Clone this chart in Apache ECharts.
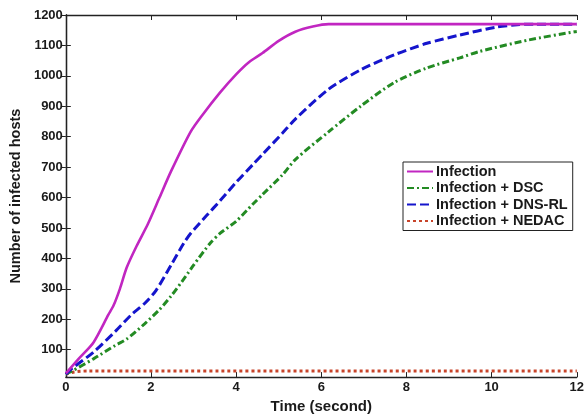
<!DOCTYPE html>
<html>
<head>
<meta charset="utf-8">
<script src="https://cdn.jsdelivr.net/npm/echarts@6/dist/echarts.min.js"></script>
<style>
  html, body { margin: 0; padding: 0; background: #fff; }
  #chart { width: 587px; height: 419px; }
</style>
</head>
<body>
<div id="chart"></div>
<script>
// Infected hosts over time for four defence scenarios
const seriesNames = ['Infection', 'Infection + DSC', 'Infection + DNS-RL', 'Infection + NEDAC'];

const infectionT = [0, 0.3, 0.65, 1.0, 1.12, 1.27, 1.43, 1.66, 1.93, 2.2, 2.47, 2.93, 3.2, 3.62, 4.0, 4.3, 4.62, 5.0, 5.39, 5.8, 6.17, 8, 10, 12];
const infectionV = [22, 70, 124, 215, 245, 300, 370, 440, 514, 600, 686, 816, 870, 945, 1005, 1045, 1075, 1115, 1145, 1162, 1170, 1170, 1170, 1170];

const dscT = [0, 0.15, 0.65, 1.16, 1.43, 1.85, 2.2, 2.47, 2.81, 3.0, 3.39, 3.62, 4.0, 4.39, 4.62, 5.09, 5.39, 6.17, 6.94, 7.71, 8.48, 9.25, 9.71, 10.87, 11.95, 12];
const dscV = [20, 30, 70, 114, 135, 185, 232, 276, 340, 378, 450, 482, 522, 578, 610, 675, 725, 816, 902, 978, 1026, 1059, 1080, 1118, 1145, 1146];

const dnsT = [0, 0.15, 0.65, 1.16, 1.54, 1.85, 2.12, 2.5, 2.77, 2.93, 3.3, 3.62, 4.0, 4.39, 4.62, 5.09, 5.39, 6.17, 6.94, 7.71, 8.48, 9.25, 10.1, 10.6, 11, 12];
const dnsV = [20, 39, 92, 160, 215, 252, 295, 385, 450, 482, 540, 589, 650, 708, 742, 812, 858, 956, 1021, 1069, 1107, 1134, 1160, 1168, 1170, 1170];

const nedacT = [0, 0.2, 0.5, 12];
const nedacV = [20, 27, 30, 30];

const xTicks = [0, 2, 4, 6, 8, 10, 12];
const yTicks = [100, 200, 300, 400, 500, 600, 700, 800, 900, 1000, 1100, 1200];

const pairs = (ts, vs) => ts.map((t, i) => [t, vs[i]]);

const labelFont = { fontFamily: 'Liberation Sans, Arial, sans-serif', fontWeight: 'bold', color: '#1a1a1a' };

const chart = echarts.init(document.getElementById('chart'));

const baseX = {
  type: 'value', min: 0, max: 12, interval: 2,
  axisLine: { show: true, lineStyle: { color: '#222', width: 1.3 } },
  axisTick: { show: true, inside: true, length: 5, lineStyle: { color: '#222' } },
  splitLine: { show: false }
};
const baseY = {
  type: 'value', min: 10, max: 1200,
  axisLine: { show: true, lineStyle: { color: '#222', width: 1.3 } },
  axisTick: { show: true, inside: true, length: 5, customValues: yTicks, lineStyle: { color: '#222' } },
  splitLine: { show: false }
};

const lineSeries = (name, ts, vs, color, width, dash, z) => ({
  name, type: 'line', smooth: 0.25, symbol: 'none', z,
  data: pairs(ts, vs),
  itemStyle: { color },
  lineStyle: { color, width, type: dash }
});

chart.setOption({
  animation: false,
  backgroundColor: '#fff',
  grid: { left: 60, right: 8, top: 15, bottom: 37 },
  xAxis: [
    Object.assign({}, baseX, {
      position: 'bottom',
      name: 'Time (second)', nameLocation: 'middle', nameGap: 18,
      nameTextStyle: Object.assign({ fontSize: 15 }, labelFont),
      axisLabel: Object.assign({ fontSize: 13, margin: 4, customValues: xTicks }, labelFont)
    }),
    Object.assign({}, baseX, { position: 'top', axisLabel: { show: false } })
  ],
  yAxis: [
    Object.assign({}, baseY, {
      position: 'left',
      name: 'Number of infected hosts', nameLocation: 'middle', nameGap: 39,
      nameTextStyle: Object.assign({ fontSize: 14.5 }, labelFont),
      axisLabel: Object.assign({ fontSize: 13, margin: 3, customValues: yTicks, formatter: v => String(v) }, labelFont)
    }),
    Object.assign({}, baseY, { position: 'right', axisLabel: { show: false } })
  ],
  legend: {
    orient: 'vertical',
    left: 403, top: 162,
    backgroundColor: '#fff',
    borderColor: '#222', borderWidth: 1, borderRadius: 0,
    padding: [2, 5, 2, 3],
    itemGap: 1.5, itemWidth: 26, itemHeight: 15,
    itemStyle: { opacity: 0 },
    textStyle: Object.assign({ fontSize: 14.5, padding: [0, 0, 0, -2] }, labelFont),
    data: seriesNames
  },
  series: [
    lineSeries(seriesNames[0], infectionT, infectionV, '#c126c1', 2.6, 'solid', 4),
    lineSeries(seriesNames[1], dscT, dscV, '#238b23', 3, [7, 3, 2, 3], 3),
    lineSeries(seriesNames[2], dnsT, dnsV, '#1515cc', 3, [9, 4], 3),
    lineSeries(seriesNames[3], nedacT, nedacV, '#c8442a', 3, [3, 3], 2)
  ]
});
</script>
</body>
</html>
